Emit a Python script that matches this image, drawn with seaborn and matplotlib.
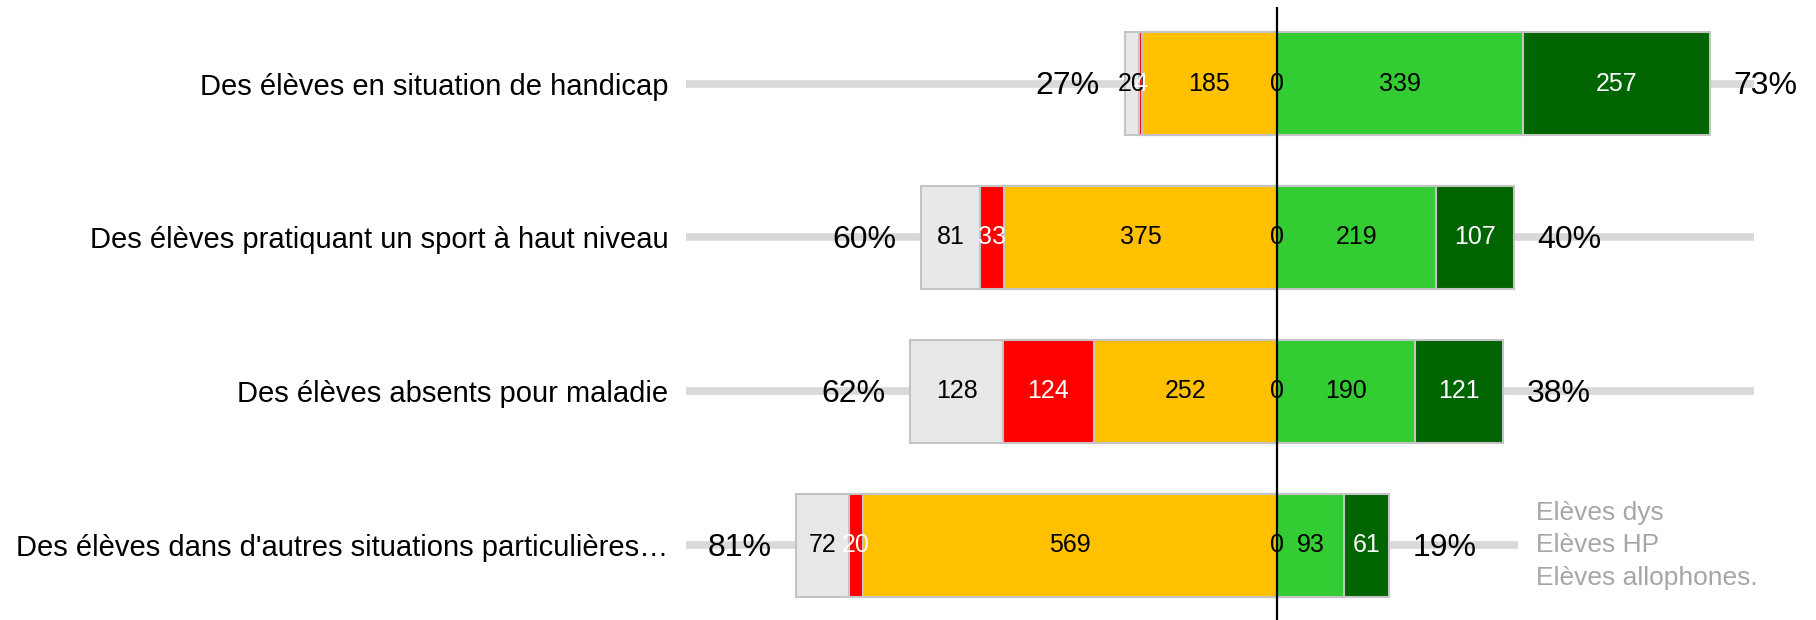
import pandas as pd
import matplotlib.pyplot as plt
import seaborn as sns

# Values
categories = [
    "Des élèves en situation de handicap",
    "Des élèves pratiquant un sport à haut niveau",
    "Des élèves absents pour maladie",
    "Des élèves dans d'autres situations particulières…",
]
gray_vals = [20, 81, 128, 72]
red_vals = [4, 33, 124, 20]
orange_vals = [185, 375, 252, 569]
neutral_vals = [0, 0, 0, 0]
green_vals = [339, 219, 190, 93]
dkgreen_vals = [257, 107, 121, 61]
left_pct = ["27%", "60%", "62%", "81%"]
right_pct = ["73%", "40%", "38%", "19%"]
note_lines = ["Elèves dys", "Elèves HP", "Elèves allophones."]

sns.set_style("white")
plt.rcParams['font.family'] = ['Liberation Sans', 'DejaVu Sans']

C_GRAY, C_RED, C_ORANGE = "#e8e8e8", "#ff0000", "#ffc000"
C_GREEN, C_DKGREEN = "#33cc33", "#006400"
EDGE = "#c4c4c4"

df = pd.DataFrame({
    "cat": categories,
    "gray": gray_vals, "red": red_vals, "orange": orange_vals,
    "neutral": neutral_vals, "green": green_vals, "dkgreen": dkgreen_vals,
})
# cumulative extents for the diverging stack (left side negative)
df["l_orange"] = -df["orange"]
df["l_red"] = df["l_orange"] - df["red"]
df["l_gray"] = df["l_red"] - df["gray"]
df["r_green"] = df["neutral"] + df["green"]
df["r_dkgreen"] = df["r_green"] + df["dkgreen"]

fig = plt.figure(figsize=(18.16, 6.2), dpi=100)
ax = fig.add_axes([0.378, -0.004, 0.588, 0.9935])

# outer segments first, inner ones on top
for col, colr in [("l_gray", C_GRAY), ("l_red", C_RED), ("l_orange", C_ORANGE),
                  ("r_dkgreen", C_DKGREEN), ("r_green", C_GREEN)]:
    sns.barplot(data=df, x=col, y="cat", orient="h", color=colr, saturation=1,
                width=0.67, edgecolor=EDGE, linewidth=1.5, errorbar=None,
                ax=ax, zorder=2)

ax.set_xlim(-812, 657)
ax.set_ylim(3.5, -0.5)

# grey track behind each row
ax.hlines(range(len(categories)), -812, 657, color="#d9d9d9", lw=5.5, zorder=0.5)
ax.axvline(0, color="black", lw=1.6, zorder=5)

# segment values
for i, r in df.iterrows():
    segs = [(r.l_gray, r.l_red, r.gray, "black"),
            (r.l_red, r.l_orange, r.red, "white"),
            (r.l_orange, 0, r.orange, "black"),
            (0, r.r_green, r.green, "black"),
            (r.r_green, r.r_dkgreen, r.dkgreen, "white")]
    for a, b, v, tc in segs:
        ax.text((a + b) / 2, i, str(v), ha="center", va="center",
                fontsize=18, color=tc, zorder=6)
    ax.text(0, i, str(r.neutral), ha="center", va="center", fontsize=18,
            color="black", zorder=6)
    ax.annotate(left_pct[i], (r.l_gray, i), xytext=(-18, -2),
                textcoords="offset points", ha="right", va="center",
                fontsize=23, color="black", zorder=6)
    ax.annotate(right_pct[i], (r.r_dkgreen, i), xytext=(17, -2),
                textcoords="offset points", ha="left", va="center",
                fontsize=23, color="black", zorder=6)

ax.text(357, 3, "\n".join(note_lines), ha="left", va="center", fontsize=19,
        color="#a6a6a6", linespacing=1.45, zorder=4,
        bbox=dict(facecolor="white", edgecolor="none", boxstyle="square,pad=0.7"))

ax.set_xlabel("")
ax.set_ylabel("")
ax.set_xticks([])
ax.tick_params(axis="y", length=0, pad=13, labelsize=21, labelcolor="black")
sns.despine(ax=ax, left=True, bottom=True)

fig.savefig("out.png", dpi=100)
